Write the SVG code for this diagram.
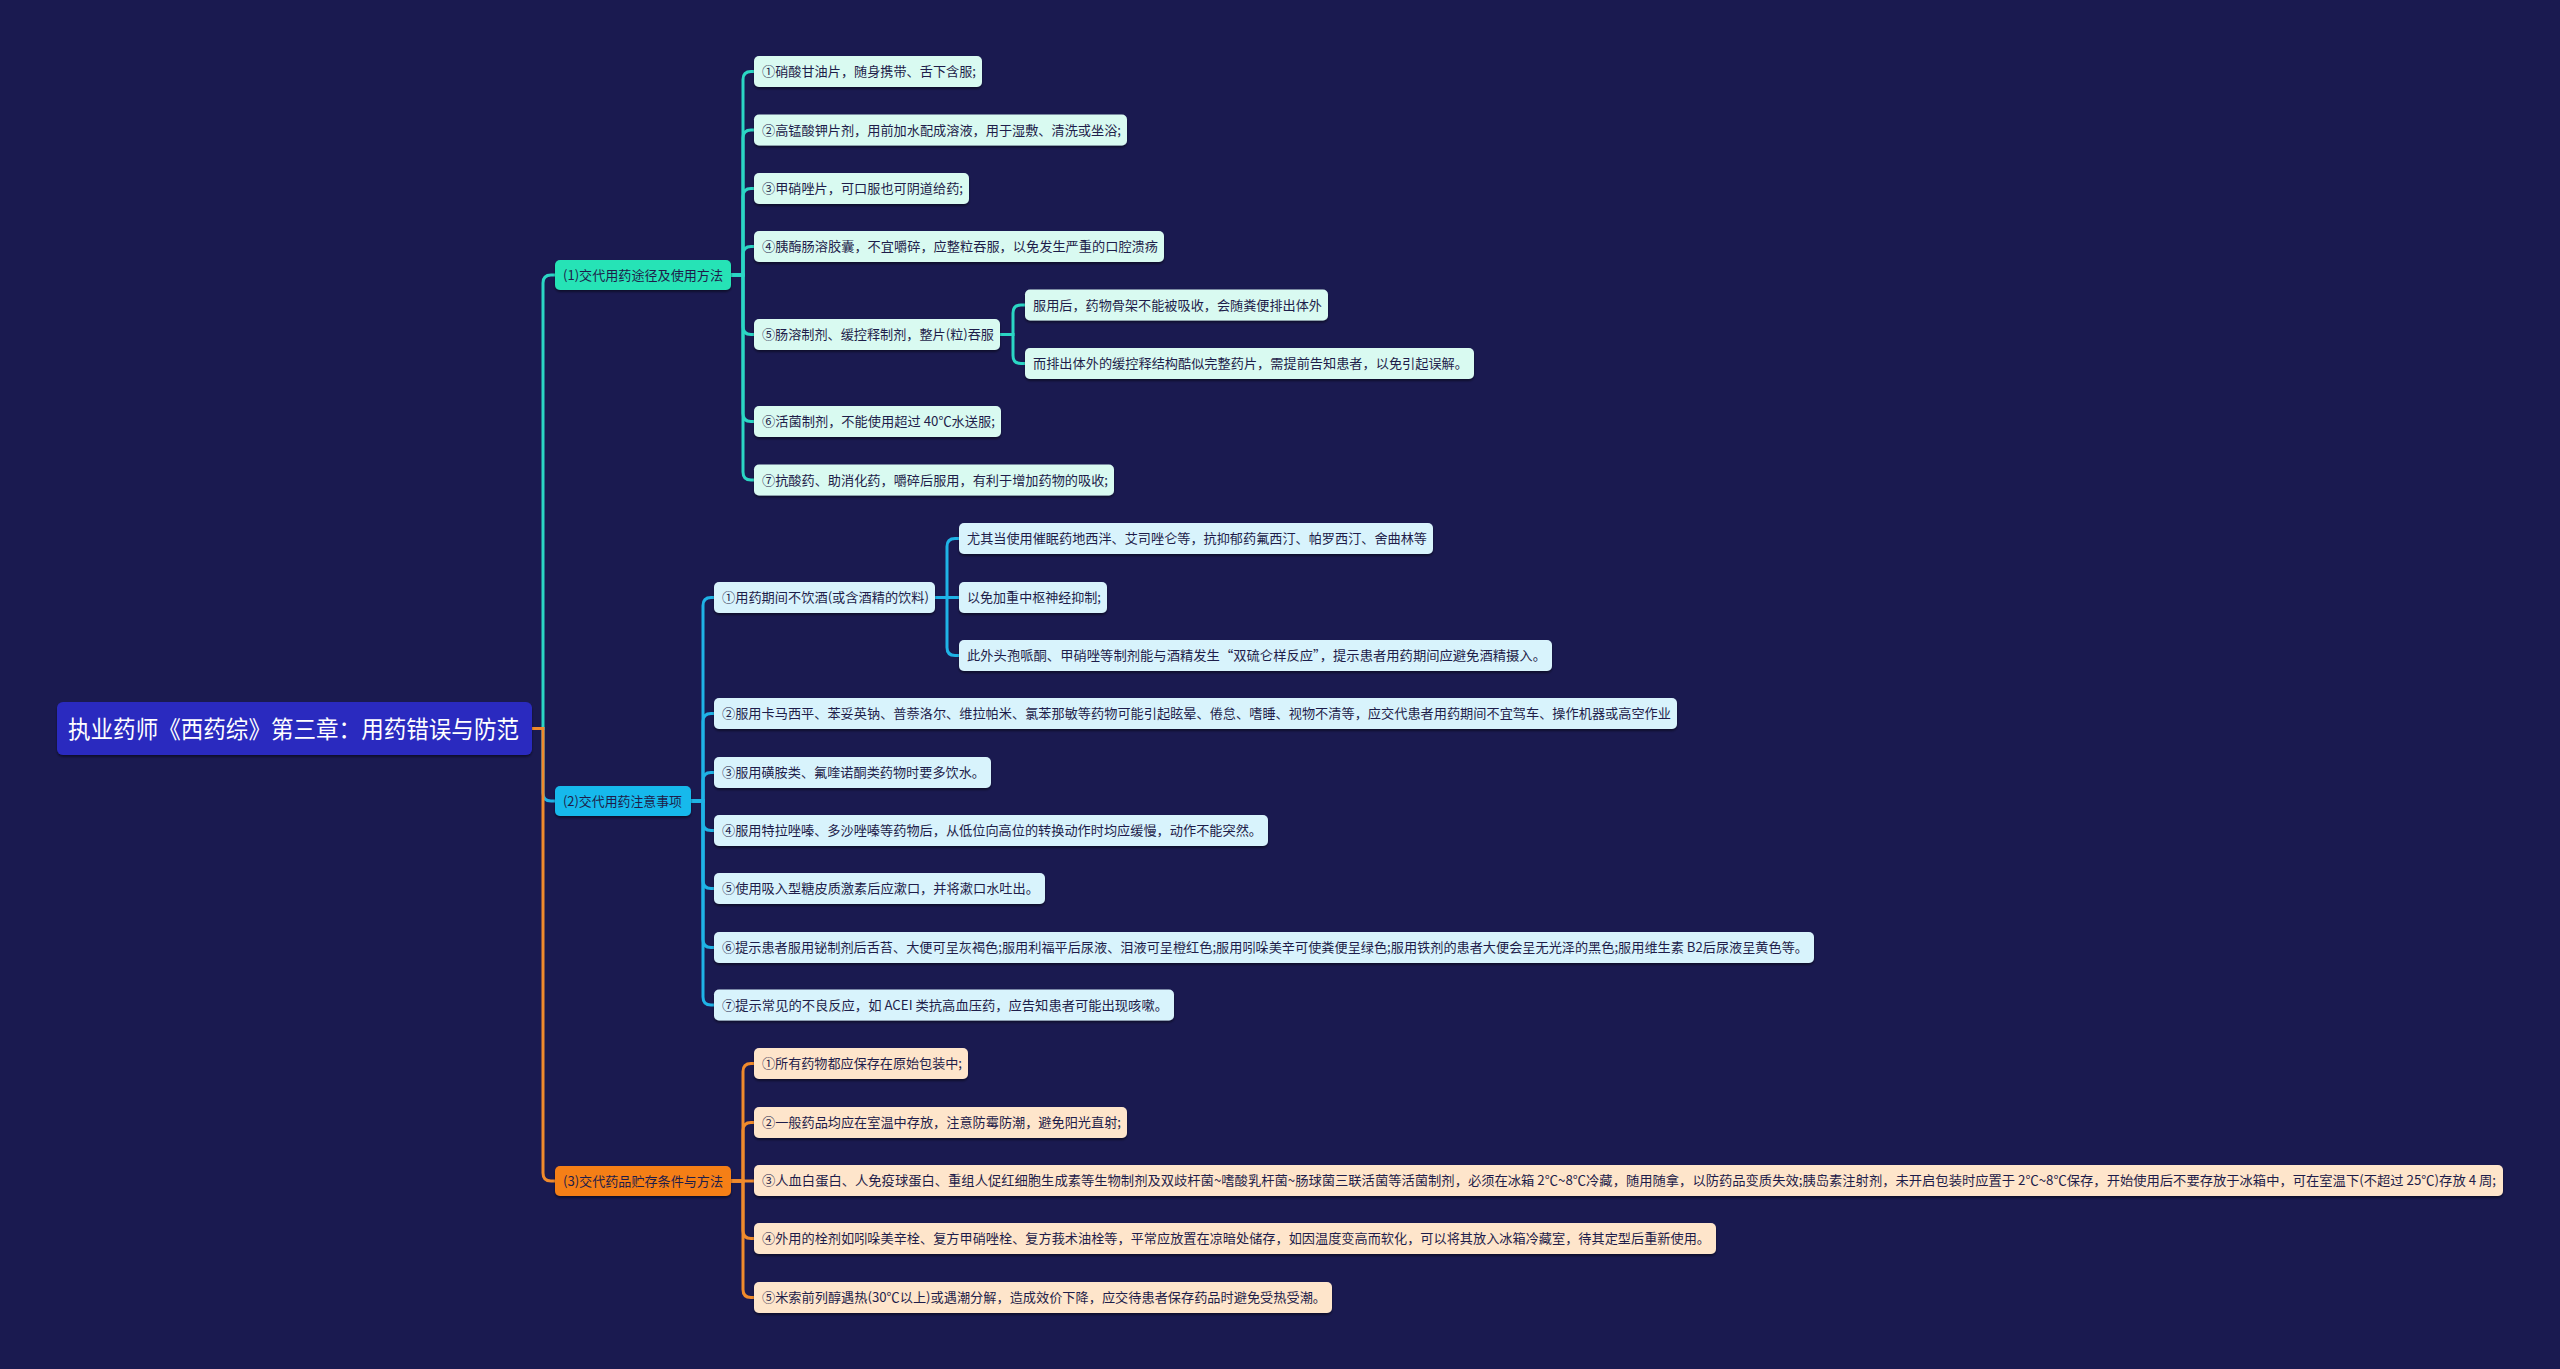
<svg xmlns="http://www.w3.org/2000/svg" width="2560" height="1369" viewBox="0 0 2560 1369">
<defs>
<filter id="sh" x="-5%" y="-20%" width="110%" height="150%"><feDropShadow dx="0" dy="2" stdDeviation="1.2" flood-color="#000" flood-opacity="0.45"/></filter>
<style>
text{font-family:"Noto Sans CJK SC","Noto Sans",sans-serif;font-size:13px;fill:#1e1d4a}
.rt{font-size:24px;fill:#ffffff}
.c1{fill:none;stroke:#2bd6c4;stroke-width:3}
.c2{fill:none;stroke:#1fb3e6;stroke-width:3}
.c3{fill:none;stroke:#f08a2c;stroke-width:3}
.l1 rect{fill:#d9faf1}
.l2 rect{fill:#d8f3fc}
.l3 rect{fill:#fee5cb}
rect{filter:url(#sh)}
</style>
</defs>
<rect x="0" y="0" width="2560" height="1369" fill="#1a1a50" style="filter:none"/>

<g id="connectors">
<path class="c1" d="M532,728.5 H543 V283 Q543,275 551,275 H555"/>
<path class="c2" d="M532,728.5 H543 V793 Q543,801 551,801 H555"/>
<path class="c3" d="M532,728.5 H543 V1173 Q543,1181 551,1181 H555"/>

<path class="c1" d="M731,275 H743 V79.5 Q743,71.5 751,71.5 H754"/>
<path class="c1" d="M731,275 H743 V138 Q743,130 751,130 H754"/>
<path class="c1" d="M731,275 H743 V196.5 Q743,188.5 751,188.5 H754"/>
<path class="c1" d="M731,275 H743 V254.5 Q743,246.5 751,246.5 H754"/>
<path class="c1" d="M731,275 H743 V326.5 Q743,334.5 751,334.5 H754"/>
<path class="c1" d="M731,275 H743 V413.5 Q743,421.5 751,421.5 H754"/>
<path class="c1" d="M731,275 H743 V472 Q743,480 751,480 H754"/>
<path class="c1" d="M1000,334.5 H1013 V313 Q1013,305 1021,305 H1025"/>
<path class="c1" d="M1000,334.5 H1013 V355.5 Q1013,363.5 1021,363.5 H1025"/>

<path class="c2" d="M691,801 H703 V605.5 Q703,597.5 711,597.5 H714"/>
<path class="c2" d="M691,801 H703 V721.5 Q703,713.5 711,713.5 H714"/>
<path class="c2" d="M691,801 H703 V780.5 Q703,772.5 711,772.5 H714"/>
<path class="c2" d="M691,801 H703 V822.5 Q703,830.5 711,830.5 H714"/>
<path class="c2" d="M691,801 H703 V880.5 Q703,888.5 711,888.5 H714"/>
<path class="c2" d="M691,801 H703 V939.5 Q703,947.5 711,947.5 H714"/>
<path class="c2" d="M691,801 H703 V997 Q703,1005 711,1005 H714"/>
<path class="c2" d="M935,597.5 H947 V546.5 Q947,538.5 955,538.5 H959"/>
<path class="c2" d="M935,597.5 H959"/>
<path class="c2" d="M935,597.5 H947 V647.5 Q947,655.5 955,655.5 H959"/>

<path class="c3" d="M731,1181 H743 V1071.5 Q743,1063.5 751,1063.5 H754"/>
<path class="c3" d="M731,1181 H743 V1130.5 Q743,1122.5 751,1122.5 H754"/>
<path class="c3" d="M731,1181 H754"/>
<path class="c3" d="M731,1181 H743 V1230.5 Q743,1238.5 751,1238.5 H754"/>
<path class="c3" d="M731,1181 H743 V1289.5 Q743,1297.5 751,1297.5 H754"/>
</g>

<g id="root">
<rect x="57" y="702" width="475" height="53" rx="6" fill="#2b2bbf"/>
<text class="rt" x="68" y="737.5" textLength="451" lengthAdjust="spacingAndGlyphs">执业药师《西药综》第三章：用药错误与防范</text>
</g>

<g id="b1"><rect x="555" y="260" width="176" height="30" rx="5" fill="#26e3b6"/><text x="563" y="279.5" textLength="160" lengthAdjust="spacingAndGlyphs">(1)交代用药途径及使用方法</text></g>
<g id="b2"><rect x="555" y="786" width="136" height="30" rx="5" fill="#18b9ec"/><text x="563" y="805.5" textLength="119" lengthAdjust="spacingAndGlyphs">(2)交代用药注意事项</text></g>
<g id="b3"><rect x="555" y="1166" width="176" height="30" rx="5" fill="#f57f17"/><text x="563" y="1185.5" textLength="160" lengthAdjust="spacingAndGlyphs">(3)交代药品贮存条件与方法</text></g>

<g class="l1">
<g id="b1-1"><rect x="754" y="56" width="228" height="31" rx="5"/><text x="762" y="76" textLength="214" lengthAdjust="spacingAndGlyphs">①硝酸甘油片，随身携带、舌下含服;</text></g>
<g id="b1-2"><rect x="754" y="114.5" width="373" height="31" rx="5"/><text x="762" y="134.5" textLength="359" lengthAdjust="spacingAndGlyphs">②高锰酸钾片剂，用前加水配成溶液，用于湿敷、清洗或坐浴;</text></g>
<g id="b1-3"><rect x="754" y="173" width="215" height="31" rx="5"/><text x="762" y="193" textLength="201" lengthAdjust="spacingAndGlyphs">③甲硝唑片，可口服也可阴道给药;</text></g>
<g id="b1-4"><rect x="754" y="231" width="410" height="31" rx="5"/><text x="762" y="251" textLength="396" lengthAdjust="spacingAndGlyphs">④胰酶肠溶胶囊，不宜嚼碎，应整粒吞服，以免发生严重的口腔溃疡</text></g>
<g id="b1-5"><rect x="754" y="319" width="246" height="31" rx="5"/><text x="762" y="339" textLength="232" lengthAdjust="spacingAndGlyphs">⑤肠溶制剂、缓控释制剂，整片(粒)吞服</text></g>
<g id="b1-5-1"><rect x="1025" y="289.5" width="303" height="31" rx="5"/><text x="1033" y="309.5" textLength="289" lengthAdjust="spacingAndGlyphs">服用后，药物骨架不能被吸收，会随粪便排出体外</text></g>
<g id="b1-5-2"><rect x="1025" y="348" width="449" height="31" rx="5"/><text x="1033" y="368" textLength="435" lengthAdjust="spacingAndGlyphs">而排出体外的缓控释结构酷似完整药片，需提前告知患者，以免引起误解。</text></g>
<g id="b1-6"><rect x="754" y="406" width="247" height="31" rx="5"/><text x="762" y="426" textLength="233" lengthAdjust="spacingAndGlyphs">⑥活菌制剂，不能使用超过 40℃水送服;</text></g>
<g id="b1-7"><rect x="754" y="464.5" width="360" height="31" rx="5"/><text x="762" y="484.5" textLength="346" lengthAdjust="spacingAndGlyphs">⑦抗酸药、助消化药，嚼碎后服用，有利于增加药物的吸收;</text></g>
</g>

<g class="l2">
<g id="b2-1"><rect x="714" y="582" width="221" height="31" rx="5"/><text x="722" y="602" textLength="207" lengthAdjust="spacingAndGlyphs">①用药期间不饮酒(或含酒精的饮料)</text></g>
<g id="b2-1-1"><rect x="959" y="523" width="474" height="31" rx="5"/><text x="967" y="543" textLength="460" lengthAdjust="spacingAndGlyphs">尤其当使用催眠药地西泮、艾司唑仑等，抗抑郁药氟西汀、帕罗西汀、舍曲林等</text></g>
<g id="b2-1-2"><rect x="959" y="582" width="148" height="31" rx="5"/><text x="967" y="602" textLength="134" lengthAdjust="spacingAndGlyphs">以免加重中枢神经抑制;</text></g>
<g id="b2-1-3"><rect x="959" y="640" width="593" height="31" rx="5"/><text x="967" y="660" textLength="579" lengthAdjust="spacingAndGlyphs">此外头孢哌酮、甲硝唑等制剂能与酒精发生“双硫仑样反应”，提示患者用药期间应避免酒精摄入。</text></g>
<g id="b2-2"><rect x="714" y="698" width="963" height="31" rx="5"/><text x="722" y="718" textLength="949" lengthAdjust="spacingAndGlyphs">②服用卡马西平、苯妥英钠、普萘洛尔、维拉帕米、氯苯那敏等药物可能引起眩晕、倦怠、嗜睡、视物不清等，应交代患者用药期间不宜驾车、操作机器或高空作业</text></g>
<g id="b2-3"><rect x="714" y="757" width="277" height="31" rx="5"/><text x="722" y="777" textLength="263" lengthAdjust="spacingAndGlyphs">③服用磺胺类、氟喹诺酮类药物时要多饮水。</text></g>
<g id="b2-4"><rect x="714" y="815" width="554" height="31" rx="5"/><text x="722" y="835" textLength="540" lengthAdjust="spacingAndGlyphs">④服用特拉唑嗪、多沙唑嗪等药物后，从低位向高位的转换动作时均应缓慢，动作不能突然。</text></g>
<g id="b2-5"><rect x="714" y="873" width="331" height="31" rx="5"/><text x="722" y="893" textLength="317" lengthAdjust="spacingAndGlyphs">⑤使用吸入型糖皮质激素后应漱口，并将漱口水吐出。</text></g>
<g id="b2-6"><rect x="714" y="932" width="1100" height="31" rx="5"/><text x="722" y="952" textLength="1086" lengthAdjust="spacingAndGlyphs">⑥提示患者服用铋制剂后舌苔、大便可呈灰褐色;服用利福平后尿液、泪液可呈橙红色;服用吲哚美辛可使粪便呈绿色;服用铁剂的患者大便会呈无光泽的黑色;服用维生素 B2后尿液呈黄色等。</text></g>
<g id="b2-7"><rect x="714" y="989.5" width="460" height="31" rx="5"/><text x="722" y="1009.5" textLength="446" lengthAdjust="spacingAndGlyphs">⑦提示常见的不良反应，如 ACEI 类抗高血压药，应告知患者可能出现咳嗽。</text></g>
</g>

<g class="l3">
<g id="b3-1"><rect x="754" y="1048" width="214" height="31" rx="5"/><text x="762" y="1068" textLength="200" lengthAdjust="spacingAndGlyphs">①所有药物都应保存在原始包装中;</text></g>
<g id="b3-2"><rect x="754" y="1107" width="373" height="31" rx="5"/><text x="762" y="1127" textLength="359" lengthAdjust="spacingAndGlyphs">②一般药品均应在室温中存放，注意防霉防潮，避免阳光直射;</text></g>
<g id="b3-3"><rect x="754" y="1165" width="1749" height="31" rx="5"/><text x="762" y="1185" textLength="1734" lengthAdjust="spacingAndGlyphs">③人血白蛋白、人免疫球蛋白、重组人促红细胞生成素等生物制剂及双歧杆菌~嗜酸乳杆菌~肠球菌三联活菌等活菌制剂，必须在冰箱 2℃~8℃冷藏，随用随拿，以防药品变质失效;胰岛素注射剂，未开启包装时应置于 2℃~8℃保存，开始使用后不要存放于冰箱中，可在室温下(不超过 25℃)存放 4 周;</text></g>
<g id="b3-4"><rect x="754" y="1223" width="962" height="31" rx="5"/><text x="762" y="1243" textLength="948" lengthAdjust="spacingAndGlyphs">④外用的栓剂如吲哚美辛栓、复方甲硝唑栓、复方莪术油栓等，平常应放置在凉暗处储存，如因温度变高而软化，可以将其放入冰箱冷藏室，待其定型后重新使用。</text></g>
<g id="b3-5"><rect x="754" y="1282" width="578" height="31" rx="5"/><text x="762" y="1302" textLength="564" lengthAdjust="spacingAndGlyphs">⑤米索前列醇遇热(30℃以上)或遇潮分解，造成效价下降，应交待患者保存药品时避免受热受潮。</text></g>
</g>
</svg>
